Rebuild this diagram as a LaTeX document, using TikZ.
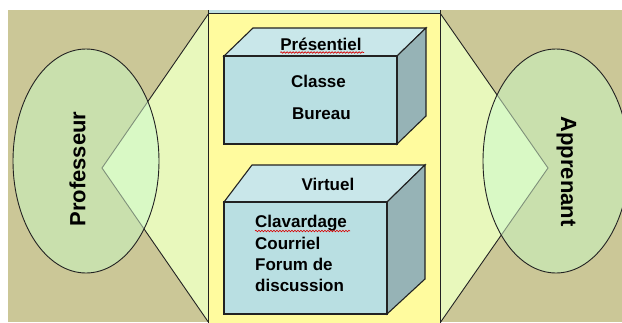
\documentclass[tikz,border=0pt]{standalone}
\usepackage{fontspec}
\setmainfont{Liberation Sans}
\usetikzlibrary{decorations.pathmorphing}
\definecolor{bgtan}{HTML}{CBC797}
\definecolor{ellfill}{HTML}{C9E0AD}
\definecolor{trifill}{HTML}{E8F8BC}
\definecolor{overlapfill}{HTML}{D9F9C5}
\definecolor{colfill}{HTML}{FFFB9E}
\definecolor{frontfill}{HTML}{B9DFE2}
\definecolor{topfill}{HTML}{C9E7EA}
\definecolor{sidefill}{HTML}{96B3B6}
\definecolor{stripfill}{HTML}{BFE0E3}
\definecolor{edgecol}{HTML}{222222}
\definecolor{faintcol}{HTML}{7F907A}
\tikzset{
  triline/.style={draw=edgecol, line width=0.9pt},
  faintline/.style={draw=faintcol, line width=0.9pt},
  ellline/.style={draw=edgecol, line width=0.9pt},
  boxedge/.style={draw=edgecol, line width=1.1pt, line join=miter},
  boxtext/.style={font=\fontsize{17}{20}\selectfont\bfseries, inner sep=0pt},
  roletext/.style={font=\fontsize{22}{26}\selectfont\bfseries, inner sep=0pt},
  spell/.style={draw=red!85!black, line width=0.6pt, decorate, decoration={snake, amplitude=0.8pt, segment length=3pt}}
}
\begin{document}
\begin{tikzpicture}[x=1pt,y=-1pt]
\useasboundingbox (0,0) rectangle (622,322);
\begin{scope}
\clip (0,0) rectangle (622,322);
\fill[bgtan] (8,10) rectangle (622,322);
% left triangle and ellipse
\coordinate (LA) at (102,168);
\coordinate (LT) at (209,13);
\coordinate (LB) at (209,323);
\fill[trifill] (LA) -- (LT) -- (LB) -- cycle;
\draw[triline] (LT) -- (LA) -- (LB);
\fill[ellfill] (86,161) ellipse [x radius=73pt, y radius=112pt];
\begin{scope}
\clip (86,161) ellipse [x radius=73pt, y radius=112pt];
\fill[overlapfill] (LA) -- (LT) -- (LB) -- cycle;
\draw[faintline] (LT) -- (LA) -- (LB);
\end{scope}
\draw[ellline] (86,161) ellipse [x radius=73pt, y radius=112pt];
% right triangle and ellipse
\coordinate (RA) at (548,168);
\coordinate (RT) at (440,13);
\coordinate (RB) at (440,323);
\fill[trifill] (RA) -- (RT) -- (RB) -- cycle;
\draw[triline] (RT) -- (RA) -- (RB);
\fill[ellfill] (556,161) ellipse [x radius=73pt, y radius=112pt];
\begin{scope}
\clip (556,161) ellipse [x radius=73pt, y radius=112pt];
\fill[overlapfill] (RA) -- (RT) -- (RB) -- cycle;
\draw[faintline] (RT) -- (RA) -- (RB);
\end{scope}
\draw[ellline] (556,161) ellipse [x radius=73pt, y radius=112pt];
% central column
\fill[stripfill] (208.5,10) rectangle (440.5,13);
\draw[edgecol, line width=0.9pt] (208.5,10) -- (208.5,13) (440.5,10) -- (440.5,13);
\draw[edgecol, line width=0.9pt, fill=colfill] (208.5,13) rectangle (440.5,330);
% top box
\draw[boxedge, fill=topfill] (224,56) -- (253,28) -- (426,28) -- (397,56) -- cycle;
\draw[boxedge, fill=sidefill] (397,56) -- (426,28) -- (426,116) -- (397,144) -- cycle;
\draw[boxedge, fill=frontfill] (224,56) rectangle (397,144);
% bottom box
\draw[boxedge, fill=topfill] (224,202) -- (252,165) -- (425,165) -- (387,202) -- cycle;
\draw[boxedge, fill=sidefill] (387,202) -- (425,165) -- (425,279) -- (387,314) -- cycle;
\draw[boxedge, fill=frontfill] (224,202) rectangle (387,314);
\end{scope}
% texts
\node[roletext, rotate=90] (prof) at (77.5,169) {Professeur};
\node[roletext, rotate=-90] (appr) at (566.5,171.5) {Apprenant};
\node[boxtext, anchor=base] (pres) at (321,50) {Présentiel};
\node[boxtext, anchor=base] (classe) at (318.5,87) {Classe};
\node[boxtext, anchor=base] (bureau) at (321.5,119) {Bureau};
\node[boxtext, anchor=base] (virt) at (328,190.5) {Virtuel};
\node[boxtext, anchor=base west] (clav) at (255,227) {Clavardage};
\node[boxtext, anchor=base west] (cour) at (255,249) {Courriel};
\node[boxtext, anchor=base west] (forum) at (255,270.5) {Forum de};
\node[boxtext, anchor=base west] (disc) at (255,291.5) {discussion};
\draw[spell] (pres.base west) ++(0,2.5) -- ++(84,0);
\draw[spell] (clav.base west) ++(0,4) -- ++(95,0);
\end{tikzpicture}
\end{document}
